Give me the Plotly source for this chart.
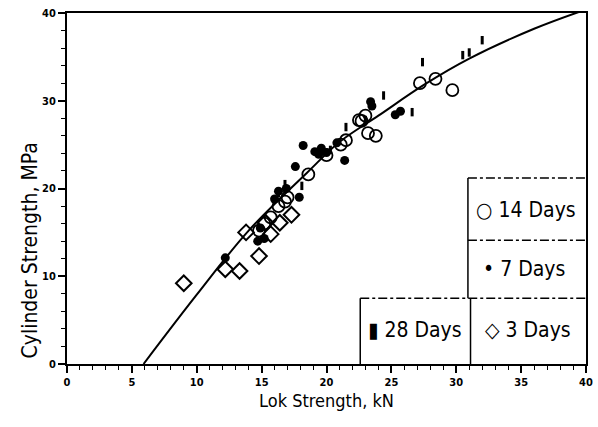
import plotly.graph_objects as go

# ---- data ----
d3_x = [9.0, 12.2, 13.3, 13.8, 14.8, 15.7, 16.4, 17.3, 15.3]
d3_y = [9.2, 10.8, 10.6, 15.0, 12.3, 14.8, 16.1, 17.0, 16.1]

d7_x = [12.2, 14.7, 14.9, 15.2, 16.0, 16.3, 16.9, 17.6, 17.9, 18.2, 19.1, 19.4, 19.6, 20.0, 20.8, 21.4, 23.4, 23.5, 25.3, 25.7]
d7_y = [12.1, 14.0, 15.5, 14.3, 18.8, 19.7, 20.0, 22.5, 19.0, 24.9, 24.2, 23.9, 24.6, 24.1, 25.2, 23.2, 29.9, 29.4, 28.4, 28.8]

d14_x = [14.8, 15.2, 15.7, 16.3, 16.8, 17.0, 18.6, 20.0, 21.1, 21.5, 22.5, 22.7, 23.0, 23.2, 23.8, 27.2, 28.4, 29.7]
d14_y = [15.2, 16.0, 16.7, 18.0, 18.5, 19.0, 21.6, 23.8, 25.0, 25.5, 27.8, 27.7, 28.3, 26.3, 26.0, 32.0, 32.5, 31.2]

d28_x = [16.3, 16.8, 18.1, 20.3, 21.5, 23.0, 24.4, 26.6, 27.4, 30.5, 31.0, 32.0]
d28_y = [19.5, 20.5, 20.3, 24.4, 27.0, 27.8, 30.6, 28.7, 34.4, 35.2, 35.5, 36.9]

fit_x = [5.9, 10, 14, 18.5, 21, 24, 27.5, 31, 36, 40]
fit_y = [0, 7.9, 15.2, 21.8, 25.3, 28.3, 31.8, 34.8, 38.2, 40.4]

x_ticks = [0, 5, 10, 15, 20, 25, 30, 35, 40]
y_ticks = [0, 10, 20, 30, 40]

legend_labels = ["\u25CB 14 Days", "\u2022 7 Days", "\u25C7 3 Days", "\u25AE 28 Days"]

FONT = "DejaVu Sans Condensed, Liberation Sans Narrow, sans-serif"

fig = go.Figure()
fig.add_trace(go.Scatter(x=fit_x, y=fit_y, mode="lines", line=dict(color="black", width=2, shape="spline"),
                         showlegend=False, hoverinfo="skip"))
fig.add_trace(go.Scatter(x=d3_x, y=d3_y, mode="markers",
                         marker=dict(symbol="diamond-open", size=12, color="black", line=dict(width=2, color="black")),
                         showlegend=False))
fig.add_trace(go.Scatter(x=d14_x, y=d14_y, mode="markers",
                         marker=dict(symbol="circle-open", size=12, color="black", line=dict(width=1.8, color="black")),
                         showlegend=False))
fig.add_trace(go.Scatter(x=d7_x, y=d7_y, mode="markers",
                         marker=dict(symbol="circle", size=9, color="black"),
                         showlegend=False))
fig.add_trace(go.Scatter(x=d28_x, y=d28_y, mode="markers",
                         marker=dict(symbol="line-ns", size=6, color="black", line=dict(width=3, color="black")),
                         showlegend=False))

# legend table drawn as shapes
lw = dict(color="black", width=1.5)
dd = dict(color="black", width=1.5, dash="dashdot")
shapes = [
    dict(type="line", xref="x", yref="y", x0=30.9, x1=30.9, y0=7.5, y1=21.2, line=lw),
    dict(type="line", xref="x", yref="y", x0=31.1, x1=31.1, y0=0, y1=7.5, line=lw),
    dict(type="line", xref="x", yref="y", x0=30.9, x1=40, y0=21.2, y1=21.2, line=dd),
    dict(type="line", xref="x", yref="y", x0=30.9, x1=40, y0=14.1, y1=14.1, line=dd),
    dict(type="line", xref="x", yref="y", x0=22.6, x1=40, y0=7.5, y1=7.5, line=dd),
    dict(type="line", xref="x", yref="y", x0=22.6, x1=22.6, y0=0, y1=7.5, line=lw),
]

lf = dict(size=21, family=FONT, color="black")
annotations = [
    dict(x=35.4, y=17.6, xref="x", yref="y", text=legend_labels[0], showarrow=False, font=lf),
    dict(x=35.2, y=10.8, xref="x", yref="y", text=legend_labels[1], showarrow=False, font=lf),
    dict(x=35.5, y=3.9, xref="x", yref="y", text=legend_labels[2], showarrow=False, font=lf),
    dict(x=26.8, y=3.9, xref="x", yref="y", text=legend_labels[3], showarrow=False, font=lf),
    dict(x=(30 - 67) / (598 - 67 - 5), y=(364 - 250) / (364 - 13), xref="paper", yref="paper",
         xanchor="center", yanchor="middle",
         text="Cylinder Strength, MPa", textangle=-90, showarrow=False,
         font=dict(size=21, family=FONT, color="black")),
]

fig.update_layout(
    width=598, height=427,
    margin=dict(l=67, r=5, t=13, b=63),
    paper_bgcolor="white", plot_bgcolor="white",
    font=dict(family=FONT, color="black"),
    shapes=shapes, annotations=annotations,
    xaxis=dict(range=[0, 40], tickvals=x_ticks, ticktext=[str(v) for v in x_ticks],
               ticks="outside", ticklen=7, tickwidth=1.5, tickcolor="black",
               minor=dict(dtick=1, ticks="outside", ticklen=4, tickwidth=1.2, tickcolor="black"),
               showline=True, linecolor="black", linewidth=1.8, mirror=True, showgrid=False, zeroline=False,
               tickfont=dict(size=11, family=FONT, weight="bold"),
               title=dict(text="Lok Strength, kN", font=dict(size=18, family=FONT), standoff=6)),
    yaxis=dict(range=[0, 40], tickvals=y_ticks, ticktext=[str(v) for v in y_ticks],
               ticks="outside", ticklen=7, tickwidth=1.5, tickcolor="black",
               minor=dict(dtick=2, ticks="outside", ticklen=4, tickwidth=1.2, tickcolor="black"),
               showline=True, linecolor="black", linewidth=1.8, mirror=True, showgrid=False, zeroline=False,
               tickfont=dict(size=11, family=FONT, weight="bold")),
)

fig.write_html("out.html", config={"displayModeBar": False},
               post_script="document.body.style.margin='0';")
